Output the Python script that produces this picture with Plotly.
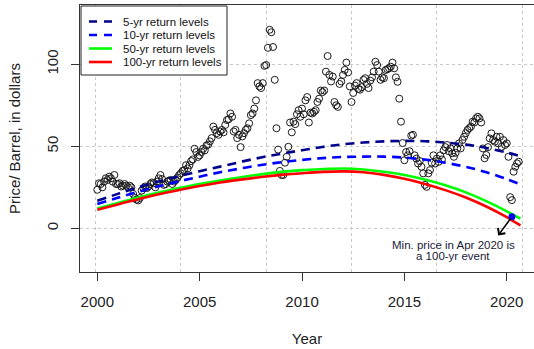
import numpy as np
import plotly.graph_objects as go

# ---------------------------------------------------------------------------
# Monthly crude price per barrel (USD), one list per calendar year
# ---------------------------------------------------------------------------
price_2000 = [23.5, 27.5, 27.0, 25.0, 28.5, 30.5, 29.5, 31.5, 30.5, 28.5, 32.5, 27.0]
price_2001 = [27.0, 27.5, 25.5, 26.0, 27.0, 26.0, 25.0, 26.0, 25.0, 21.0, 18.5, 17.5]
price_2002 = [17.0, 18.5, 23.0, 24.5, 25.5, 24.5, 25.5, 27.0, 28.0, 27.5, 25.0, 28.5]
price_2003 = [30.5, 32.5, 30.0, 26.5, 27.0, 28.5, 29.0, 29.5, 27.0, 28.5, 29.5, 31.0]
price_2004 = [32.5, 33.5, 35.0, 35.5, 38.5, 36.5, 38.5, 41.0, 42.0, 48.5, 46.5, 43.5]
price_2005 = [44.5, 46.5, 48.5, 47.5, 50.5, 51.0, 53.0, 55.0, 62.0, 60.0, 58.0, 57.0]
price_2006 = [59.0, 60.0, 58.5, 63.0, 66.0, 66.5, 70.0, 68.0, 59.0, 60.0, 55.0, 57.0]
price_2007 = [49.5, 56.0, 58.0, 60.0, 61.0, 64.0, 69.0, 70.0, 73.0, 78.0, 88.5, 86.5]
price_2008 = [85.5, 88.5, 99.0, 99.5, 110.0, 121.0, 119.5, 110.5, 90.5, 61.0, 48.0, 35.0]
price_2009 = [32.5, 32.5, 40.0, 43.6, 49.7, 64.5, 58.5, 65.0, 63.5, 69.5, 72.0, 68.0]
price_2010 = [73.0, 69.5, 78.0, 80.0, 64.5, 70.5, 70.0, 71.0, 72.0, 77.0, 79.0, 84.0]
price_2011 = [83.0, 84.0, 95.5, 105.0, 93.5, 89.5, 92.5, 77.0, 75.0, 74.0, 88.0, 89.5]
price_2012 = [93.5, 96.5, 101.0, 95.0, 86.5, 77.0, 82.5, 87.0, 88.5, 85.0, 84.5, 86.0]
price_2013 = [90.5, 91.5, 88.0, 85.5, 90.0, 92.0, 95.5, 101.5, 99.5, 95.5, 90.5, 92.0]
price_2014 = [91.5, 96.5, 97.0, 97.5, 98.5, 101.0, 97.5, 92.0, 89.3, 79.0, 65.0, 52.0]
price_2015 = [41.5, 46.5, 44.5, 47.0, 56.5, 57.0, 44.5, 42.5, 39.5, 41.0, 37.5, 33.5]
price_2016 = [26.5, 25.3, 33.5, 35.5, 40.0, 44.5, 39.5, 42.5, 40.5, 44.5, 42.0, 47.5]
price_2017 = [49.5, 50.8, 47.0, 48.7, 45.7, 43.6, 46.0, 48.7, 51.8, 48.7, 53.8, 55.8]
price_2018 = [58.0, 60.0, 61.0, 62.0, 65.0, 64.5, 67.0, 68.0, 67.0, 64.5, 48.7, 42.7]
price_2019 = [44.7, 49.5, 54.8, 57.9, 53.8, 52.8, 55.8, 51.8, 55.8, 49.7, 53.8, 50.8]
price_2020 = [51.8, 43.6, 19.0, 17.2, 34.5, 37.5, 39.6, 40.6]

# ---------------------------------------------------------------------------
# Fitted return levels (USD) at yearly knots
# ---------------------------------------------------------------------------
curve_years = [2000, 2001, 2002, 2003, 2004, 2005, 2006, 2007, 2008, 2009, 2010,
               2011, 2012, 2013, 2014, 2015, 2016, 2017, 2018, 2019, 2020, 2020.667]
rl_5yr = [16.8, 21.0, 25.0, 28.6, 31.8, 34.8, 37.6, 40.5, 43.2, 45.5, 47.6,
          49.6, 51.2, 52.3, 53.0, 53.3, 53.1, 52.3, 51.0, 49.0, 46.2, 44.0]
rl_10yr = [14.8, 18.6, 22.3, 25.6, 28.7, 31.5, 34.2, 36.5, 38.6, 40.3, 41.7,
           42.8, 43.5, 43.7, 43.7, 43.1, 41.9, 40.0, 37.5, 34.2, 30.0, 26.8]
rl_50yr = [12.1, 15.5, 18.8, 21.8, 24.5, 27.0, 29.2, 31.1, 32.9, 34.4, 35.5,
           36.1, 36.5, 35.9, 34.5, 32.5, 29.7, 26.2, 21.9, 16.6, 10.4, 5.9]
rl_100yr = [11.3, 14.6, 17.8, 20.8, 23.4, 25.8, 27.9, 29.7, 31.3, 32.6, 33.6,
            34.4, 34.7, 34.2, 32.6, 30.2, 27.1, 23.3, 18.8, 13.3, 6.8, 1.8]

series_names = ["5-yr return levels", "10-yr return levels",
                "50-yr return levels", "100-yr return levels"]
series_values = [rl_5yr, rl_10yr, rl_50yr, rl_100yr]

# April 2020 minimum, marked on the return-level curves
min_event_year = 2020.25
min_event_level = 7.1

x_ticks = [2000, 2005, 2010, 2015, 2020]
y_ticks = [0, 50, 100]
grid_months = [0, 50, 100, 150, 200, 250]   # vertical guides by month index

# ---------------------------------------------------------------------------
prices = np.array(price_2000 + price_2001 + price_2002 + price_2003 + price_2004 +
                  price_2005 + price_2006 + price_2007 + price_2008 + price_2009 +
                  price_2010 + price_2011 + price_2012 + price_2013 + price_2014 +
                  price_2015 + price_2016 + price_2017 + price_2018 + price_2019 +
                  price_2020)
month_idx = np.arange(1, len(prices) + 1)
t = 2000 + (month_idx - 1) / 12.0
grid_x = [2000 + (m - 1) / 12.0 for m in grid_months]

FONT = "Liberation Sans, Arial, sans-serif"
styles = [
    dict(color="#00008B", dash="9px,6px"),
    dict(color="#0000FF", dash="9px,6px"),
    dict(color="#00FF00", dash="solid"),
    dict(color="#FF0000", dash="solid"),
]

fig = go.Figure()

fig.add_trace(go.Scatter(
    x=t, y=prices, mode="markers", showlegend=False,
    marker=dict(symbol="circle-open", size=7, color="#1a1a1a",
                line=dict(width=1, color="#1a1a1a")),
))

for name, vals, st in zip(series_names, series_values, styles):
    fig.add_trace(go.Scatter(
        x=curve_years, y=vals, mode="lines", name=name, showlegend=False,
        line=dict(color=st["color"], width=2.6, dash=st["dash"], shape="spline"),
    ))

fig.add_trace(go.Scatter(
    x=[min_event_year], y=[min_event_level], mode="markers", showlegend=False,
    marker=dict(symbol="circle", size=7, color="#0000FF"),
))

# plot-area geometry (pixels) used for the boxed legend
W, H = 534, 349
ML, MR, MT, MB = 80, 0, 5, 77
PW, PH = W - ML - MR, H - MT - MB


def px(xp):
    return (xp - ML) / PW


def py(yp):
    return 1 - (yp - MT) / PH


shapes = [dict(type="rect", xref="paper", yref="paper",
               x0=px(81), x1=px(227), y0=py(75), y1=py(6),
               line=dict(color="#222222", width=1), fillcolor="white", layer="above")]
annotations = []
row_y = [21.5, 35, 48.5, 62]
for name, st, ry in zip(series_names, styles, row_y):
    shapes.append(dict(type="line", xref="paper", yref="paper",
                       x0=px(89), x1=px(112), y0=py(ry), y1=py(ry),
                       line=dict(color=st["color"], width=2.6,
                                 dash="8px,7px" if st["dash"] != "solid" else "solid"),
                       layer="above"))
    annotations.append(dict(xref="paper", yref="paper", x=px(121), y=py(ry),
                            xanchor="left", yanchor="middle", showarrow=False,
                            text=name, font=dict(family=FONT, size=11.5, color="#111111")))

# arrow from the marked minimum down to the note
annotations.append(dict(x=2019.58, y=-4.3, ax=min_event_year, ay=min_event_level,
                        xref="x", yref="y", axref="x", ayref="y", text="",
                        showarrow=True, arrowhead=4, arrowsize=1.1, arrowwidth=1.6,
                        arrowcolor="#000000"))
annotations.append(dict(x=2017.39, y=-10.2, xref="x", yref="y", showarrow=False,
                        text="Min. price in Apr 2020 is", xanchor="center", yanchor="middle",
                        font=dict(family=FONT, size=11.5, color="#1a1a3a")))
annotations.append(dict(x=2017.39, y=-16.9, xref="x", yref="y", showarrow=False,
                        text="a 100-yr event", xanchor="center", yanchor="middle",
                        font=dict(family=FONT, size=11.5, color="#1a1a3a")))

fig.update_layout(
    width=W, height=H,
    margin=dict(l=ML, r=MR, t=MT, b=MB, pad=0),
    paper_bgcolor="white", plot_bgcolor="white",
    font=dict(family=FONT, size=15, color="#222222"),
    shapes=shapes, annotations=annotations,
    showlegend=False,
)
fig.update_xaxes(
    range=[1999.155, 2021.33], tickmode="array", tickvals=x_ticks,
    showline=True, linecolor="#333333", linewidth=1, mirror=True,
    ticks="outside", ticklen=8, tickcolor="#333333", tickwidth=1,
    ticklabelstandoff=8,
    showgrid=False, zeroline=False,
    minor=dict(tickmode="array", tickvals=grid_x, showgrid=True,
               gridcolor="#C8C8C8", griddash="dot", gridwidth=1, ticks=""),
    title=dict(text="Year", standoff=24, font=dict(size=15)),
)
fig.update_yaxes(
    range=[-26.6, 136.1], tickmode="array", tickvals=y_ticks, tickangle=-90,
    showline=True, linecolor="#333333", linewidth=1, mirror=False,
    ticks="outside", ticklen=8, tickcolor="#333333", tickwidth=1,
    ticklabelstandoff=7,
    showgrid=True, gridcolor="#C8C8C8", griddash="dot", gridwidth=1, zeroline=False,
    title=dict(text="Price/ Barrel, in dollars", standoff=19, font=dict(size=15)),
)

fig.write_html("out.html")
